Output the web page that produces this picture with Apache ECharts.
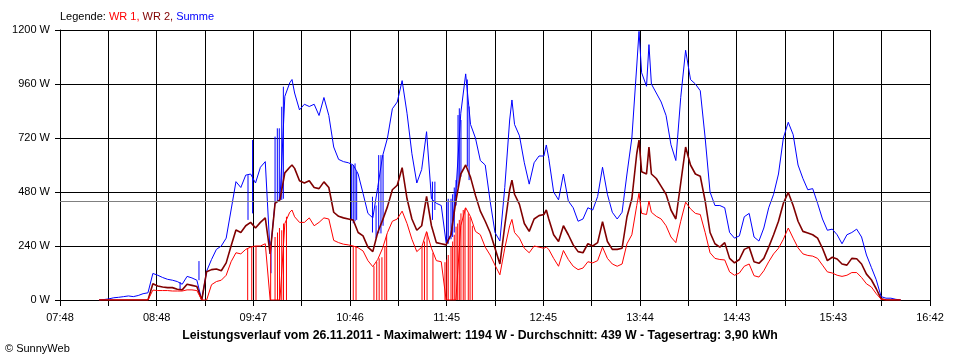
<!DOCTYPE html>
<html><head><meta charset="utf-8">
<script src="https://cdn.jsdelivr.net/npm/echarts@6/dist/echarts.min.js"></script>
<style>html,body{margin:0;padding:0;background:#fff}#c{width:960px;height:360px}</style>
</head><body><div id="c"></div>
<script>
// x tick labels (every second grid line), axis 07:48 .. 16:42
const tickLabels = ['07:48','08:48','09:47','10:46','11:45','12:45','13:44','14:43','15:43','16:42'];
const yMax = 1200, yStep = 240;
const average = 439;
// sample times: minutes after 07:48
const minutes = [
 24,27,30,33,36,39,42,45,48,51,
 54,57,60,63,66,69,72,75,78,81,
 84,87,90,93,96,99,102,105,108,111,
 114,117,120,123,126,129,132,135,138,141,142.4,
 144,147,150,153,156,159,162,165,168,171,
 174,177,180,183,186,189,192,195,198,201,
 204,207,210,213,216,219,222,225,228,231,
 234,237,240,243,246,249,252,255,258,261,
 264,267,270,273,276,277.4,279,282,285,288,291,
 294,297,298.5,300,303,306,309,312,315,318,321,
 324,327,330,333,336,339,342,345,348,351,
 354,355.4,357,360,361.5,363,366,369,372,375,378,381,
 384,387,390,393,396,399,402,405,408,411,
 414,417,420,423,426,429,432,435,438,441,
 444,447,450,453,456,459,462,465,468,471,
 474,477,480,483,486,489,492,495,498,501,
 504,507,510,513,516
];
const summe = [
 0,2,5,10,12,15,18,15,20,28,
 32,118,110,100,92,88,82,70,105,98,
 88,0,128,180,225,240,275,400,526,500,
 555,560,520,590,615,205,435,445,905,965,980,
 920,845,870,860,870,820,900,820,680,625,
 615,610,600,560,474,385,365,500,640,720,
 850,880,975,830,650,520,580,748,450,430,
 420,255,290,480,830,1005,780,720,620,600,
 440,300,262,500,800,889,780,730,610,515,610,
 640,640,689,630,480,445,560,440,410,350,360,
 410,400,460,590,470,390,360,390,560,720,
 1040,1194,1010,950,1135,960,920,880,820,690,620,900,
 1110,980,960,930,720,480,420,420,410,300,
 275,285,370,385,280,262,320,410,470,560,
 720,790,735,600,540,490,495,430,360,310,
 315,290,250,290,300,315,280,200,145,90,
 15,8,8,3,0
];
const wr2 = [
 0,0,0,0,0,0,0,0,0,0,
 0,72,62,58,55,55,48,45,70,65,
 60,0,126,135,138,130,165,240,311,300,
 330,345,320,345,365,205,430,445,565,590,600,
 585,530,520,530,500,495,525,500,390,372,
 365,360,355,300,285,235,215,300,355,415,
 490,510,588,450,360,310,330,460,330,255,
 250,245,290,440,560,600,545,465,395,350,
 300,230,160,330,490,533,470,425,340,305,360,
 375,380,400,360,290,260,330,290,245,215,210,
 250,240,255,348,260,225,225,230,370,450,
 650,711,570,560,680,560,540,505,470,400,360,520,
 680,600,560,550,440,300,250,235,255,185,
 165,180,225,235,170,163,185,235,290,350,
 430,478,420,350,305,298,290,275,230,175,
 190,182,160,155,185,183,160,115,90,50,
 5,0,0,0,0
];
const wr1 = [
 0,0,0,0,0,0,0,0,0,0,
 0,44,42,42,42,40,40,40,45,45,
 42,0,0,68,82,88,110,170,210,205,
 225,235,240,240,250,0,0,0,340,390,400,
 370,345,345,365,330,345,365,360,265,255,
 248,245,240,232,218,175,148,180,230,300,
 350,360,395,340,270,215,235,304,230,175,
 170,0,0,0,330,410,370,305,290,235,
 200,155,112,230,330,358,300,275,230,210,240,
 235,230,235,225,185,150,220,180,150,135,142,
 170,165,175,235,185,160,150,160,250,290,
 420,474,385,380,440,390,372,360,330,280,255,350,
 435,405,385,380,300,210,185,180,178,125,
 110,120,150,160,108,102,130,170,205,230,
 270,320,275,232,205,198,195,185,155,125,
 120,110,105,110,122,122,100,72,58,28,
 4,0,0,0,0
];
// short WR 1 dropouts / bursts: [minutes after 07:48, top value]
const wr1Spikes = [
 [115.2,230],[117.7,235],[120.3,240],[129.3,245],
 [132.0,280],[133.5,300],[134.7,320],[136.1,310],[137.2,340],[139.0,370],
 [180.0,240],[181.7,238],
 [192.7,150],[194.4,170],[195.9,185],[197.6,190],[199.4,240],[200.5,290],
 [222.2,235],[223.7,260],[225.3,300],[228.9,210],
 [236.3,168],[237.4,180],[238.3,200],[240.0,237],[241.0,260],[242.0,290],[243.1,326],
 [244.1,340],[245.1,356],[246.1,385],[247.5,400],[248.6,407],[250.6,385],[251.7,370],[253.1,330]
];
// short Summe excursions: [minutes after 07:48, low, high]
const summeSpikes = [
 [73.7,44,80],[85.3,88,173],[115.4,356,555],[118.2,385,711],[129.5,119,260],
 [132.0,440,726],[133.4,440,763],[134.6,440,763],[136.1,445,859],[137.1,450,948],
 [179.0,356,600],[180.0,341,600],[181.1,350,607],[182.1,356,570],
 [191.8,300,459],[194.0,274,420],[195.6,296,644],[197.0,296,644],[198.3,330,644],
 [228.6,356,526],[230.1,400,526],
 [237.4,250,440],[238.3,250,450],[240.0,270,450],[241.0,280,470],[242.0,300,500],[243.1,420,533],
 [244.3,500,822],[245.1,520,852],[246.1,548,800],[250.0,593,980],[251.1,533,860]
];

const RED = '#ff0000', MAROON = '#800000', BLUE = '#0000ff';
const FONT = 'Liberation Sans, Arial, sans-serif';
const SPAN = 534 * 60;           // 07:48 -> 16:42 in seconds
const STEP = SPAN / 18;          // 1780 s between grid lines

const pairs = arr => minutes.map((m, i) => [m * 60, arr[i]]);
// vertical segments as a broken line: (t,lo)-(t,hi), gap, ...
const segs = list => {
  const out = [];
  list.forEach(s => { out.push([s[0] * 60, s[1]], [s[0] * 60, s[2]], [s[0] * 60, '-']); });
  return out;
};

const chart = echarts.init(document.getElementById('c'), null, { renderer: 'canvas' });
chart.setOption({
  animation: false,
  backgroundColor: '#fff',
  title: [
    { text: '{k|Legende: }{a|WR 1,}{b| WR 2,}{c| Summe}', left: 60, top: 11, padding: 0,
      textStyle: { fontFamily: FONT, fontSize: 11, fontWeight: 'normal',
        rich: { k: { color: '#000', fontSize: 11, fontFamily: FONT },
                a: { color: RED, fontSize: 11, fontFamily: FONT },
                b: { color: MAROON, fontSize: 11, fontFamily: FONT },
                c: { color: BLUE, fontSize: 11, fontFamily: FONT } } } },
    { text: 'Leistungsverlauf vom 26.11.2011 - Maximalwert: 1194 W - Durchschnitt: 439 W - Tagesertrag: 3,90 kWh',
      left: 'center', top: 330, padding: 0,
      textStyle: { fontFamily: FONT, fontSize: 12.3, fontWeight: 'bold', color: '#000' } },
    { text: '© SunnyWeb', left: 5, top: 343, padding: 0,
      textStyle: { fontFamily: FONT, fontSize: 11, fontWeight: 'normal', color: '#000' } }
  ],
  grid: { left: 60, right: 30, top: 30, bottom: 60, containLabel: false, outerBoundsMode: 'none' },
  xAxis: {
    type: 'value', min: 0, max: SPAN, interval: STEP,
    axisLine: { show: true, lineStyle: { color: '#000', width: 1 } },
    axisTick: { show: true, length: 6, lineStyle: { color: '#000' } },
    splitLine: { show: true, lineStyle: { color: '#000', width: 1 } },
    axisLabel: { show: true, margin: 12, color: '#000', fontFamily: FONT, fontSize: 11,
      showMinLabel: true, showMaxLabel: true, hideOverlap: false,
      formatter: v => { const i = Math.round(v / STEP); return i % 2 === 0 ? tickLabels[i / 2] : ''; } }
  },
  yAxis: {
    type: 'value', min: 0, max: yMax, interval: yStep,
    axisLine: { show: true, lineStyle: { color: '#000', width: 1 } },
    axisTick: { show: true, length: 5, lineStyle: { color: '#000' } },
    splitLine: { show: true, lineStyle: { color: '#000', width: 1 } },
    axisLabel: { margin: 10, color: '#000', fontFamily: FONT, fontSize: 11, formatter: v => String(v) + ' W' }
  },
  series: [
    { name: 'Summe', type: 'line', data: pairs(summe), symbol: 'none', z: 3,
      lineStyle: { color: BLUE, width: 1 }, itemStyle: { color: BLUE },
      markLine: { silent: true, symbol: 'none', label: { show: false },
        lineStyle: { color: '#808080', width: 1, type: 'solid' }, data: [{ yAxis: average }] } },
    { name: 'Summe spikes', type: 'line', z: 3, symbol: 'none', connectNulls: false,
      lineStyle: { color: BLUE, width: 1 }, itemStyle: { color: BLUE },
      data: segs(summeSpikes) },
    { name: 'WR 2', type: 'line', data: pairs(wr2), symbol: 'none', z: 4,
      lineStyle: { color: MAROON, width: 1.6 }, itemStyle: { color: MAROON } },
    { name: 'WR 1', type: 'line', data: pairs(wr1), symbol: 'none', z: 5,
      lineStyle: { color: RED, width: 1 }, itemStyle: { color: RED } },
    { name: 'WR 1 spikes', type: 'line', z: 5, symbol: 'none', connectNulls: false,
      lineStyle: { color: RED, width: 1 }, itemStyle: { color: RED },
      data: segs(wr1Spikes.map(s => [s[0], 0, s[1]])) }
  ]
});
</script></body></html>
